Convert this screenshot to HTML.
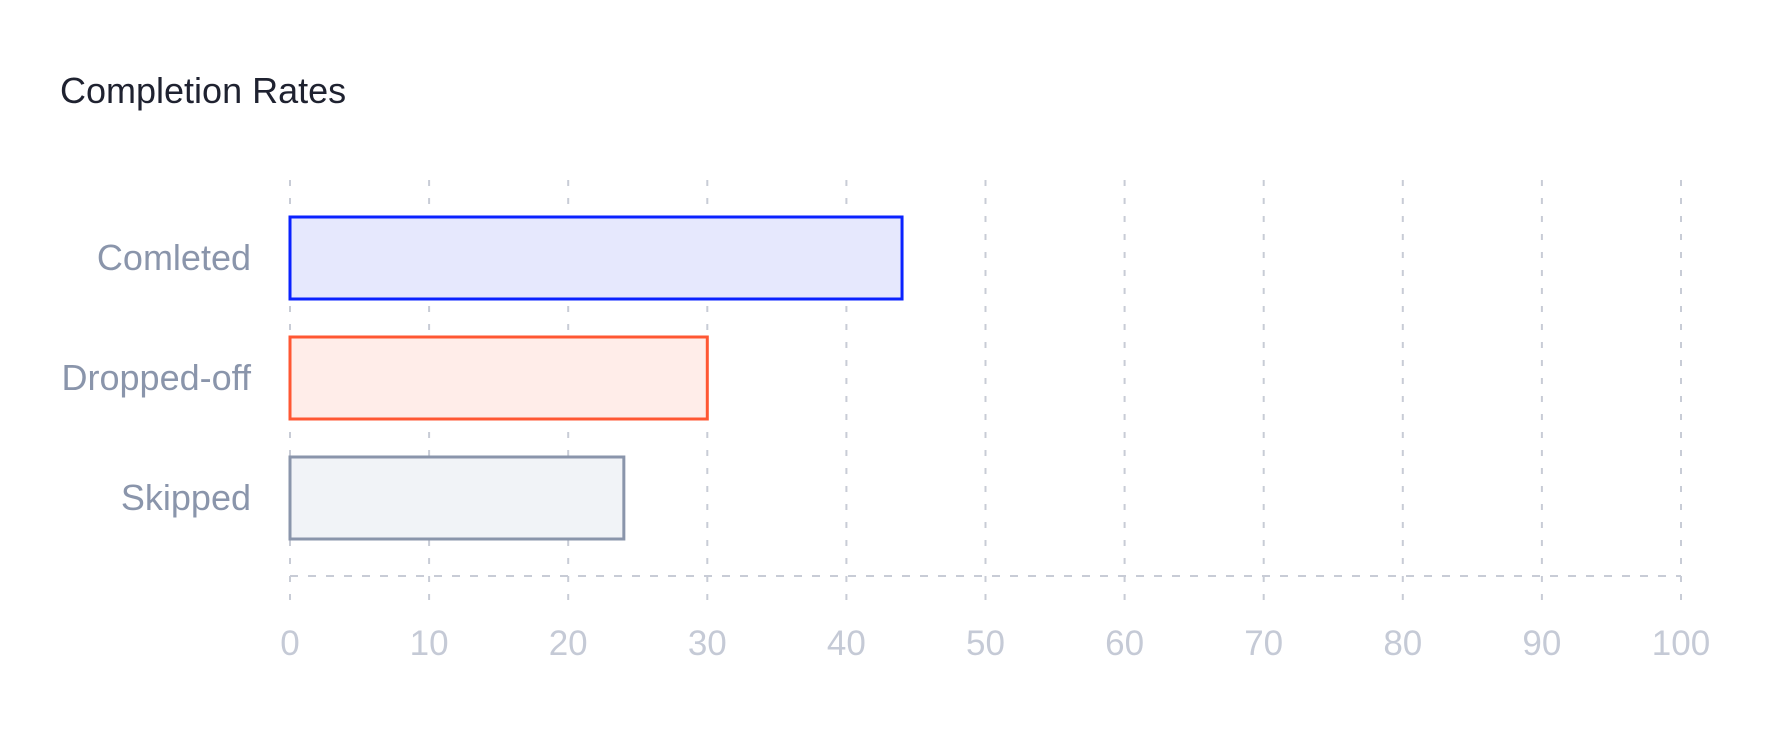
<!DOCTYPE html>
<html><head><meta charset="utf-8"><style>
html,body{margin:0;padding:0;background:#fff;}
svg{display:block;font-family:"Liberation Sans",Arial,sans-serif;}
</style></head><body>
<svg id="chart" width="1770" height="732" viewBox="0 0 1770 732">
<text x="60" y="103" font-size="36" fill="#1f2230">Completion Rates</text>
<g id="grid"></g><g id="bars"></g><g id="labels"></g>
</svg>
<script>
const categories = ["Comleted", "Dropped-off", "Skipped"];
const values = [44, 30, 24];
const ticks = [0,10,20,30,40,50,60,70,80,90,100];
const strokes = ["#0a22ff", "#ff5733", "#8a95ab"];
const fills = ["#e6e8fd", "#ffede9", "#f1f3f7"];

const NS = "http://www.w3.org/2000/svg";
const x0 = 290, x1 = 1681, xMax = 100;
const xs = v => x0 + (v / xMax) * (x1 - x0);
const bandTop = 198, bandStep = 120, barH = 82, barOff = 19;
const ys = i => bandTop + i * bandStep + barOff;
function mk(tag, attrs, parent){const e=document.createElementNS(NS,tag);for(const k in attrs)e.setAttribute(k,attrs[k]);parent.appendChild(e);return e;}
const grid=document.getElementById('grid'), bars=document.getElementById('bars'), labels=document.getElementById('labels');

ticks.forEach(t=>{
  const l=mk('line',{x1:xs(t),x2:xs(t),y1:180,y2:600,stroke:'#c8ccd6','stroke-width':2,'stroke-dasharray':'6 12'},grid);
  
  
  const tx=mk('text',{x:xs(t),y:655,'font-size':35,fill:'#c5cad6','text-anchor':'middle'},labels);
  tx.textContent=t;
  
  
});
const ax=mk('line',{x1:x0,x2:x1,y1:576,y2:576,stroke:'#c8ccd6','stroke-width':2,'stroke-dasharray':'8 10'},grid);



categories.forEach((c,i)=>{
  const y=ys(i);
  const r=mk('rect',{x:x0,y:y,width:xs(values[i])-x0,height:barH,fill:fills[i],stroke:strokes[i],'stroke-width':3},bars);
  
  
  const tx=mk('text',{x:251,y:y+barH/2+12,'font-size':36,fill:'#8a95ab','text-anchor':'end'},labels);
  tx.textContent=c;
  
  
});
</script>
</body></html>
